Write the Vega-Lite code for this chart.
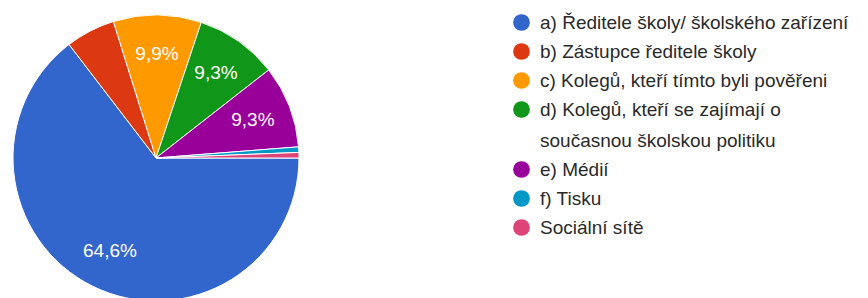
{
  "$schema": "https://vega.github.io/schema/vega-lite/v6.json",
  "width": 312,
  "height": 316,
  "padding": 0,
  "background": "white",
  "config": {"style": {"guide-label": {"lineHeight": 31}}},
  "data": {
    "values": [
      {"i": 1, "answer": "a) Ředitele školy/ školského zařízení", "count": 104, "label": "64,6%"},
      {"i": 2, "answer": "b) Zástupce ředitele školy", "count": 9, "label": ""},
      {"i": 3, "answer": "c) Kolegů, kteří tímto byli pověřeni", "count": 16, "label": "9,9%"},
      {"i": 4, "answer": "d) Kolegů, kteří se zajímají o současnou školskou politiku", "count": 15, "label": "9,3%"},
      {"i": 5, "answer": "e) Médií", "count": 15, "label": "9,3%"},
      {"i": 6, "answer": "f) Tisku", "count": 1, "label": ""},
      {"i": 7, "answer": "Sociální sítě", "count": 1, "label": ""}
    ]
  },
  "encoding": {
    "theta": {"field": "count", "type": "quantitative", "stack": true, "scale": {"range": [1.5708, 7.854]}},
    "order": {"field": "i", "type": "quantitative", "sort": "ascending"}
  },
  "layer": [
    {
      "mark": {"type": "arc", "outerRadius": 143, "stroke": "white", "strokeWidth": 1},
      "encoding": {
        "color": {
          "field": "answer",
          "type": "nominal",
          "scale": {
            "domain": [
              "a) Ředitele školy/ školského zařízení",
              "b) Zástupce ředitele školy",
              "c) Kolegů, kteří tímto byli pověřeni",
              "d) Kolegů, kteří se zajímají o současnou školskou politiku",
              "e) Médií",
              "f) Tisku",
              "Sociální sítě"
            ],
            "range": ["#3366cc", "#dc3912", "#ff9900", "#109618", "#990099", "#0099c6", "#dd4477"]
          },
          "legend": {
            "orient": "none",
            "legendX": 512,
            "legendY": 13,
            "title": null,
            "symbolType": "circle",
            "symbolSize": 280,
            "symbolStrokeWidth": 0,
            "labelFontSize": 19,
            "labelFont": "Liberation Sans",
            "labelColor": "#2a2a2a",
            "rowPadding": 9,
            "labelOffset": 9,
            "labelLimit": 400,
            "labelExpr": "indexof(datum.label, 'zajímají') >= 0 ? ['d) Kolegů, kteří se zajímají o', 'současnou školskou politiku'] : datum.label"
          }
        }
      }
    },
    {
      "mark": {"type": "text", "radius": 104, "fontSize": 19, "font": "Liberation Sans"},
      "encoding": {
        "text": {"field": "label", "type": "nominal"},
        "detail": {"field": "answer", "type": "nominal"},
        "color": {"value": "white"}
      }
    }
  ]
}
